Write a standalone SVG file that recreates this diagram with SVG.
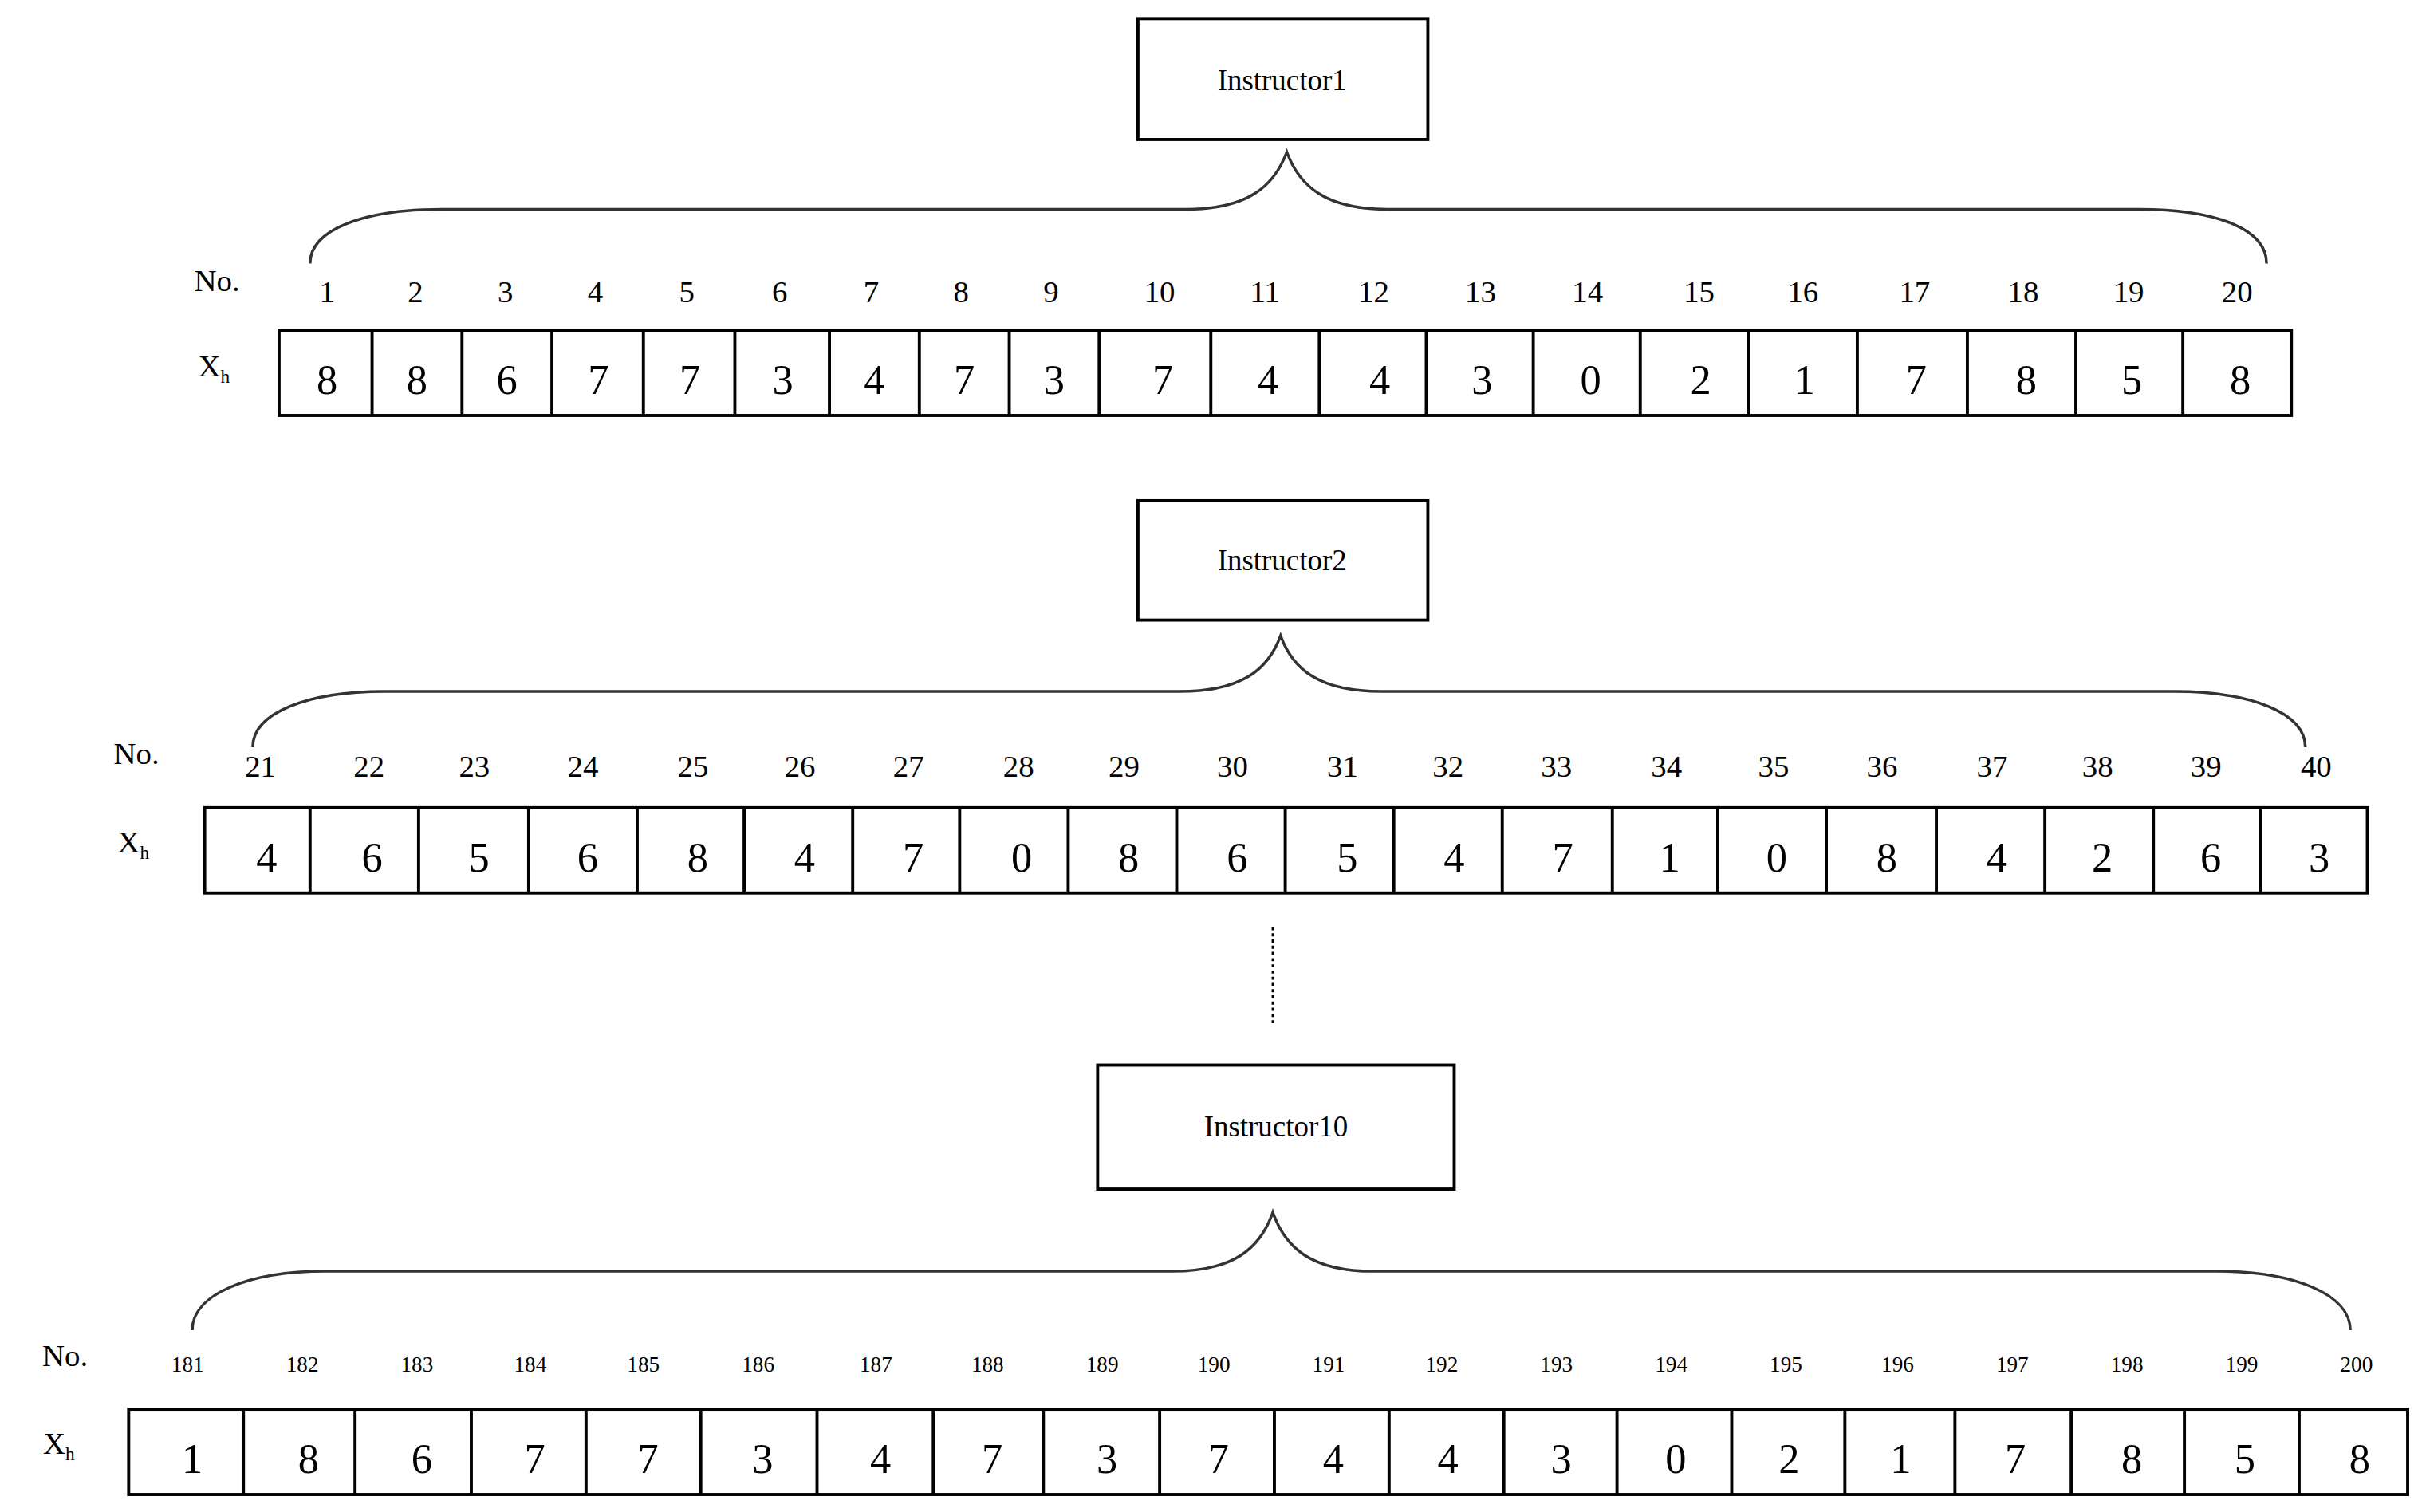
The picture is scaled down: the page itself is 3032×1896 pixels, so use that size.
<svg xmlns="http://www.w3.org/2000/svg" width="3032" height="1896" viewBox="0 0 3032 1896">
<style>
.bx{fill:#fff;stroke:#000;stroke-width:2}
.ln{stroke:#000;stroke-width:2}
.br{fill:none;stroke:#333;stroke-width:1.8}
.t{font-family:"Liberation Serif",serif;fill:#000;text-anchor:middle}
.lb{font-size:19px}
.n{font-size:20px}
.s{font-size:14px}
.v{font-size:27px}
</style>
<rect width="3032" height="1896" fill="#fff"/>
<g transform="scale(1.944)">
<g id="instructor1"><rect class="bx" x="734" y="12" width="187" height="78"/><text class="t lb" x="827" y="58">Instructor1</text></g>
<g id="instructor2"><rect class="bx" x="734" y="323" width="187" height="77"/><text class="t lb" x="827" y="368">Instructor2</text></g>
<g id="instructor10"><rect class="bx" x="708" y="687" width="230" height="80"/><text class="t lb" x="823" y="733">Instructor10</text></g>
<g id="connectors">
<path class="br" d="M200,170 C200,148 235,135 285,135 L765,135 C805,135 822,120 830,98 C838,120 855,135 895,135 L1380,135 C1430,135 1462,148 1462,170"/>
<path class="br" d="M163,482 C163,460 198,446 248,446 L761,446 C801,446 818,432 826,410 C834,432 851,446 891,446 L1402,446 C1452,446 1487,460 1487,482"/>
<path class="br" d="M124,858 C124,835 160,820 210,820 L756,820 C796,820 813,805 821,782 C829,805 846,820 886,820 L1430,820 C1480,820 1516,835 1516,858"/>
<line x1="821" y1="598" x2="821" y2="662" stroke="#000" stroke-width="1.5" stroke-dasharray="2,2"/>
</g>
<g id="row1">
<text class="t n" x="140" y="188">No.</text><text class="t n" x="138" y="243">X<tspan font-size="12" dy="4">h</tspan></text>
<rect class="bx" x="180" y="213" width="1298" height="55"/>
<path class="ln" d="M240,213V268M298,213V268M356,213V268M415,213V268M474,213V268M535,213V268M593,213V268M651,213V268M709,213V268M781,213V268M851,213V268M920,213V268M989,213V268M1058,213V268M1128,213V268M1198,213V268M1269,213V268M1339,213V268M1408,213V268"/>
<g class="t n"><text x="211" y="195">1</text><text x="268" y="195">2</text><text x="326" y="195">3</text><text x="384" y="195">4</text><text x="443" y="195">5</text><text x="503" y="195">6</text><text x="562" y="195">7</text><text x="620" y="195">8</text><text x="678" y="195">9</text><text x="748" y="195">10</text><text x="816" y="195">11</text><text x="886" y="195">12</text><text x="955" y="195">13</text><text x="1024" y="195">14</text><text x="1096" y="195">15</text><text x="1163" y="195">16</text><text x="1235" y="195">17</text><text x="1305" y="195">18</text><text x="1373" y="195">19</text><text x="1443" y="195">20</text></g>
<g class="t v"><text x="211" y="254">8</text><text x="269" y="254">8</text><text x="327" y="254">6</text><text x="386" y="254">7</text><text x="445" y="254">7</text><text x="505" y="254">3</text><text x="564" y="254">4</text><text x="622" y="254">7</text><text x="680" y="254">3</text><text x="750" y="254">7</text><text x="818" y="254">4</text><text x="890" y="254">4</text><text x="956" y="254">3</text><text x="1026" y="254">0</text><text x="1097" y="254">2</text><text x="1164" y="254">1</text><text x="1236" y="254">7</text><text x="1307" y="254">8</text><text x="1375" y="254">5</text><text x="1445" y="254">8</text></g>
</g>
<g id="row2">
<text class="t n" x="88" y="493">No.</text><text class="t n" x="86" y="550">X<tspan font-size="12" dy="4">h</tspan></text>
<rect class="bx" x="132" y="521" width="1395" height="55"/>
<path class="ln" d="M200,521V576M270,521V576M341,521V576M411,521V576M480,521V576M550,521V576M619,521V576M689,521V576M759,521V576M829,521V576M899,521V576M969,521V576M1040,521V576M1108,521V576M1178,521V576M1249,521V576M1319,521V576M1389,521V576M1458,521V576"/>
<g class="t n"><text x="168" y="501">21</text><text x="238" y="501">22</text><text x="306" y="501">23</text><text x="376" y="501">24</text><text x="447" y="501">25</text><text x="516" y="501">26</text><text x="586" y="501">27</text><text x="657" y="501">28</text><text x="725" y="501">29</text><text x="795" y="501">30</text><text x="866" y="501">31</text><text x="934" y="501">32</text><text x="1004" y="501">33</text><text x="1075" y="501">34</text><text x="1144" y="501">35</text><text x="1214" y="501">36</text><text x="1285" y="501">37</text><text x="1353" y="501">38</text><text x="1423" y="501">39</text><text x="1494" y="501">40</text></g>
<g class="t v"><text x="172" y="562">4</text><text x="240" y="562">6</text><text x="309" y="562">5</text><text x="379" y="562">6</text><text x="450" y="562">8</text><text x="519" y="562">4</text><text x="589" y="562">7</text><text x="659" y="562">0</text><text x="728" y="562">8</text><text x="798" y="562">6</text><text x="869" y="562">5</text><text x="938" y="562">4</text><text x="1008" y="562">7</text><text x="1077" y="562">1</text><text x="1146" y="562">0</text><text x="1217" y="562">8</text><text x="1288" y="562">4</text><text x="1356" y="562">2</text><text x="1426" y="562">6</text><text x="1496" y="562">3</text></g>
</g>
<g id="row10">
<text class="t n" x="42" y="881">No.</text><text class="t n" x="38" y="938">X<tspan font-size="12" dy="4">h</tspan></text>
<rect class="bx" x="83" y="909" width="1470" height="55"/>
<path class="ln" d="M157,909V964M229,909V964M304,909V964M378,909V964M452,909V964M527,909V964M602,909V964M673,909V964M748,909V964M822,909V964M896,909V964M970,909V964M1043,909V964M1117,909V964M1190,909V964M1261,909V964M1336,909V964M1409,909V964M1483,909V964"/>
<g class="t s"><text x="121" y="885">181</text><text x="195" y="885">182</text><text x="269" y="885">183</text><text x="342" y="885">184</text><text x="415" y="885">185</text><text x="489" y="885">186</text><text x="565" y="885">187</text><text x="637" y="885">188</text><text x="711" y="885">189</text><text x="783" y="885">190</text><text x="857" y="885">191</text><text x="930" y="885">192</text><text x="1004" y="885">193</text><text x="1078" y="885">194</text><text x="1152" y="885">195</text><text x="1224" y="885">196</text><text x="1298" y="885">197</text><text x="1372" y="885">198</text><text x="1446" y="885">199</text><text x="1520" y="885">200</text></g>
<g class="t v"><text x="124" y="950">1</text><text x="199" y="950">8</text><text x="272" y="950">6</text><text x="345" y="950">7</text><text x="418" y="950">7</text><text x="492" y="950">3</text><text x="568" y="950">4</text><text x="640" y="950">7</text><text x="714" y="950">3</text><text x="786" y="950">7</text><text x="860" y="950">4</text><text x="934" y="950">4</text><text x="1007" y="950">3</text><text x="1081" y="950">0</text><text x="1154" y="950">2</text><text x="1226" y="950">1</text><text x="1300" y="950">7</text><text x="1375" y="950">8</text><text x="1448" y="950">5</text><text x="1522" y="950">8</text></g>
</g>
</g>
</svg>
